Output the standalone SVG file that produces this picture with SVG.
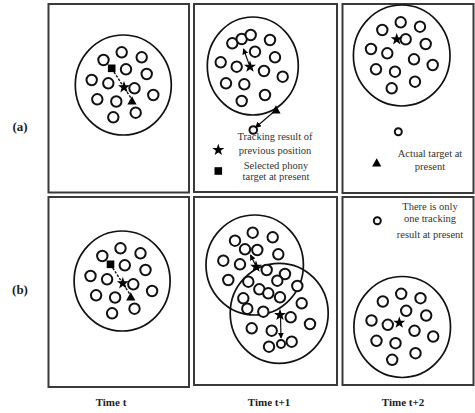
<svg xmlns="http://www.w3.org/2000/svg" width="475" height="413" viewBox="0 0 475 413">
<style>
.box{fill:#fff;stroke:#3a3a3a;stroke-width:2}
.big{fill:none;stroke:#111;stroke-width:1.7}
.sm{fill:#fff;stroke:#111;stroke-width:2}
.lbl{font-family:"Liberation Serif",serif;font-size:10.5px;fill:#333;text-anchor:middle}
.time{font-family:"Liberation Serif",serif;font-size:11px;font-weight:bold;fill:#222;text-anchor:middle}
.row{font-family:"Liberation Serif",serif;font-size:13px;font-weight:bold;fill:#222;text-anchor:middle}
.ln{stroke:#111;stroke-width:1.2;fill:none}
.dash{stroke:#111;stroke-width:1.4;fill:none;stroke-dasharray:2.5 1.5}
</style>
<defs>
<path id="star" d="M0,-6.3 L1.48,-2.04 L5.99,-1.95 L2.4,0.78 L3.7,5.1 L0,2.52 L-3.7,5.1 L-2.4,0.78 L-5.99,-1.95 L-1.48,-2.04 Z" fill="#000"/>
<path id="tri" d="M0,-4.8 L4.6,3.6 L-4.6,3.6 Z" fill="#000"/>
<rect id="sq" x="-3.8" y="-3.8" width="7.6" height="7.6" fill="#000"/>
<marker id="ah" viewBox="0 0 8 8" refX="7" refY="4" markerWidth="6" markerHeight="6" orient="auto" markerUnits="userSpaceOnUse">
<path d="M0,0 L8,4 L0,8 Z" fill="#000"/>
</marker>
<g id="clusterA">
<ellipse class="big" cx="123.3" cy="85" rx="48" ry="50"/>
<circle class="sm" cx="121.7" cy="52.3" r="5.2"/>
<circle class="sm" cx="103.5" cy="60" r="5.2"/>
<circle class="sm" cx="141.7" cy="57.3" r="5.2"/>
<circle class="sm" cx="126" cy="69.3" r="5.2"/>
<circle class="sm" cx="146.7" cy="74" r="5.2"/>
<circle class="sm" cx="91.7" cy="80" r="5.2"/>
<circle class="sm" cx="108.3" cy="83.3" r="5.2"/>
<circle class="sm" cx="134.5" cy="88.3" r="5.2"/>
<circle class="sm" cx="153.3" cy="95" r="5.2"/>
<circle class="sm" cx="97.3" cy="99.3" r="5.2"/>
<circle class="sm" cx="116.3" cy="101.5" r="5.2"/>
<circle class="sm" cx="135.7" cy="112.7" r="5.2"/>
<circle class="sm" cx="113.3" cy="117.3" r="5.2"/>
<path class="dash" d="M114,72 L123,86 L131,98"/>
<use href="#sq" x="111.7" y="68.3"/>
<use href="#star" x="124" y="87.3"/>
<use href="#tri" x="132" y="101"/>
</g>
<g id="clusterC">
<ellipse class="big" cx="401.7" cy="55.5" rx="48.3" ry="50.5"/>
<circle class="sm" cx="400.7" cy="22.3" r="5.2"/>
<circle class="sm" cx="382.3" cy="30" r="5.2"/>
<circle class="sm" cx="420" cy="26.7" r="5.2"/>
<circle class="sm" cx="405.7" cy="39.3" r="5.2"/>
<circle class="sm" cx="425.7" cy="44" r="5.2"/>
<circle class="sm" cx="371" cy="49" r="5.2"/>
<circle class="sm" cx="387.3" cy="53.3" r="5.2"/>
<circle class="sm" cx="414" cy="59.3" r="5.2"/>
<circle class="sm" cx="432.7" cy="65" r="5.2"/>
<circle class="sm" cx="376" cy="69.3" r="5.2"/>
<circle class="sm" cx="395" cy="71.7" r="5.2"/>
<circle class="sm" cx="415" cy="81.7" r="5.2"/>
<circle class="sm" cx="391.7" cy="88.3" r="5.2"/>
</g>
</defs>
<rect width="475" height="413" fill="#fff"/>

<g id="row-labels">
<text class="row" x="20" y="131">(a)</text>
<text class="row" x="20" y="294">(b)</text>
</g>

<g id="panel-a-t">
<rect class="box" x="48.5" y="4" width="140.5" height="188.5"/>
<use href="#clusterA"/>
</g>

<g id="panel-a-t1">
<rect class="box" x="194" y="4" width="143" height="188"/>
<ellipse class="big" cx="252.8" cy="66" rx="45.5" ry="49"/>
<circle class="sm" cx="232.3" cy="43.3" r="5.2"/>
<circle class="sm" cx="241.7" cy="39" r="5.2"/>
<circle class="sm" cx="250.7" cy="35" r="5.2"/>
<circle class="sm" cx="270" cy="40" r="5.2"/>
<circle class="sm" cx="255" cy="51.7" r="5.2"/>
<circle class="sm" cx="275" cy="57.3" r="5.2"/>
<circle class="sm" cx="220.7" cy="62.3" r="5.2"/>
<circle class="sm" cx="236.7" cy="66.7" r="5.2"/>
<circle class="sm" cx="264" cy="71" r="5.2"/>
<circle class="sm" cx="282.7" cy="76.7" r="5.2"/>
<circle class="sm" cx="226" cy="83.3" r="5.2"/>
<circle class="sm" cx="244.3" cy="84.3" r="5.2"/>
<circle class="sm" cx="265" cy="95" r="5.2"/>
<circle class="sm" cx="241.7" cy="101" r="5.2"/>
<circle class="sm" cx="253.3" cy="130" r="3.8"/>
<use href="#star" x="250" y="66.7"/>
<use href="#tri" x="276" y="110"/>
<use href="#star" x="218.3" y="150"/>
<use href="#sq" x="218.3" y="171"/>
<text class="lbl" x="275" y="140">Tracking result of</text>
<text class="lbl" x="275" y="153.5">previous position</text>
<text class="lbl" x="276" y="169">Selected phony</text>
<text class="lbl" x="276" y="180">target at present</text>
</g>

<g id="panel-a-t2">
<rect class="box" x="342.5" y="4" width="131" height="189"/>
<use href="#clusterC"/>
<use href="#star" x="396.7" y="39.3"/>
<circle class="sm" cx="398.3" cy="131.7" r="3.5"/>
<use href="#tri" x="376.7" y="163"/>
<text class="lbl" x="430" y="156.5">Actual target at</text>
<text class="lbl" x="430" y="170">present</text>
</g>

<g id="panel-b-t">
<rect class="box" x="48.5" y="197" width="140.5" height="190"/>
<use href="#clusterA" transform="translate(-1.2,196)"/>
</g>

<g id="panel-b-t1">
<rect class="box" x="194" y="197" width="143" height="188"/>
<ellipse class="big" cx="254.7" cy="265" rx="48.7" ry="50"/>
<ellipse class="big" cx="279.2" cy="313.3" rx="49" ry="50"/>
<circle class="sm" cx="252.7" cy="232.7" r="5.2"/>
<circle class="sm" cx="235" cy="240.7" r="5.2"/>
<circle class="sm" cx="272.7" cy="237.3" r="5.2"/>
<circle class="sm" cx="245" cy="249.3" r="5.2"/>
<circle class="sm" cx="257.3" cy="250" r="5.2"/>
<circle class="sm" cx="278.3" cy="254.3" r="5.2"/>
<circle class="sm" cx="223.3" cy="260.7" r="5.2"/>
<circle class="sm" cx="240" cy="264.3" r="5.2"/>
<circle class="sm" cx="266.7" cy="270" r="5.2"/>
<circle class="sm" cx="285" cy="274" r="5.2"/>
<circle class="sm" cx="228.3" cy="280" r="5.2"/>
<circle class="sm" cx="248.3" cy="281.7" r="5.2"/>
<circle class="sm" cx="277.3" cy="280.7" r="5.2"/>
<circle class="sm" cx="297.3" cy="286" r="5.2"/>
<circle class="sm" cx="259.3" cy="289.3" r="5.2"/>
<circle class="sm" cx="268.3" cy="293.3" r="5.2"/>
<circle class="sm" cx="280" cy="297.3" r="5.2"/>
<circle class="sm" cx="243.3" cy="298.3" r="5.2"/>
<circle class="sm" cx="301.7" cy="303.3" r="5.2"/>
<circle class="sm" cx="247.3" cy="308.7" r="5.2"/>
<circle class="sm" cx="263.3" cy="311.7" r="5.2"/>
<circle class="sm" cx="290.7" cy="317.3" r="5.2"/>
<circle class="sm" cx="310" cy="324" r="5.2"/>
<circle class="sm" cx="251.7" cy="328.3" r="5.2"/>
<circle class="sm" cx="271.7" cy="330.7" r="5.2"/>
<circle class="sm" cx="269" cy="346.7" r="5.2"/>
<circle class="sm" cx="281" cy="344" r="4"/>
<circle class="sm" cx="291.7" cy="341.7" r="5.2"/>
<use href="#star" x="256" y="266.7"/>
<use href="#star" x="280" y="315"/>
</g>

<g id="panel-b-t2">
<rect class="box" x="342.5" y="197" width="131" height="188"/>
<circle class="sm" cx="377.3" cy="220.7" r="3.5"/>
<text class="lbl" x="430" y="210">There is only</text>
<text class="lbl" x="430" y="221.5">one tracking</text>
<text class="lbl" x="430" y="238">result at present</text>
<use href="#clusterC" transform="translate(0.5,271.5)"/>
<use href="#star" x="399.3" y="322.7"/>
</g>

<g id="connectors">
<line class="ln" x1="249" y1="64" x2="243.5" y2="49" marker-end="url(#ah)"/>
<line class="ln" x1="273" y1="112.5" x2="255.5" y2="127.5" marker-end="url(#ah)"/>
<line class="ln" x1="255" y1="264" x2="250.5" y2="255" marker-end="url(#ah)"/>
<line class="ln" x1="280.5" y1="317" x2="281" y2="338" marker-end="url(#ah)"/>
</g>

<g id="time-labels">
<text class="time" x="111" y="405.5">Time t</text>
<text class="time" x="269" y="405.5">Time t+1</text>
<text class="time" x="403" y="405.5">Time t+2</text>
</g>
</svg>
